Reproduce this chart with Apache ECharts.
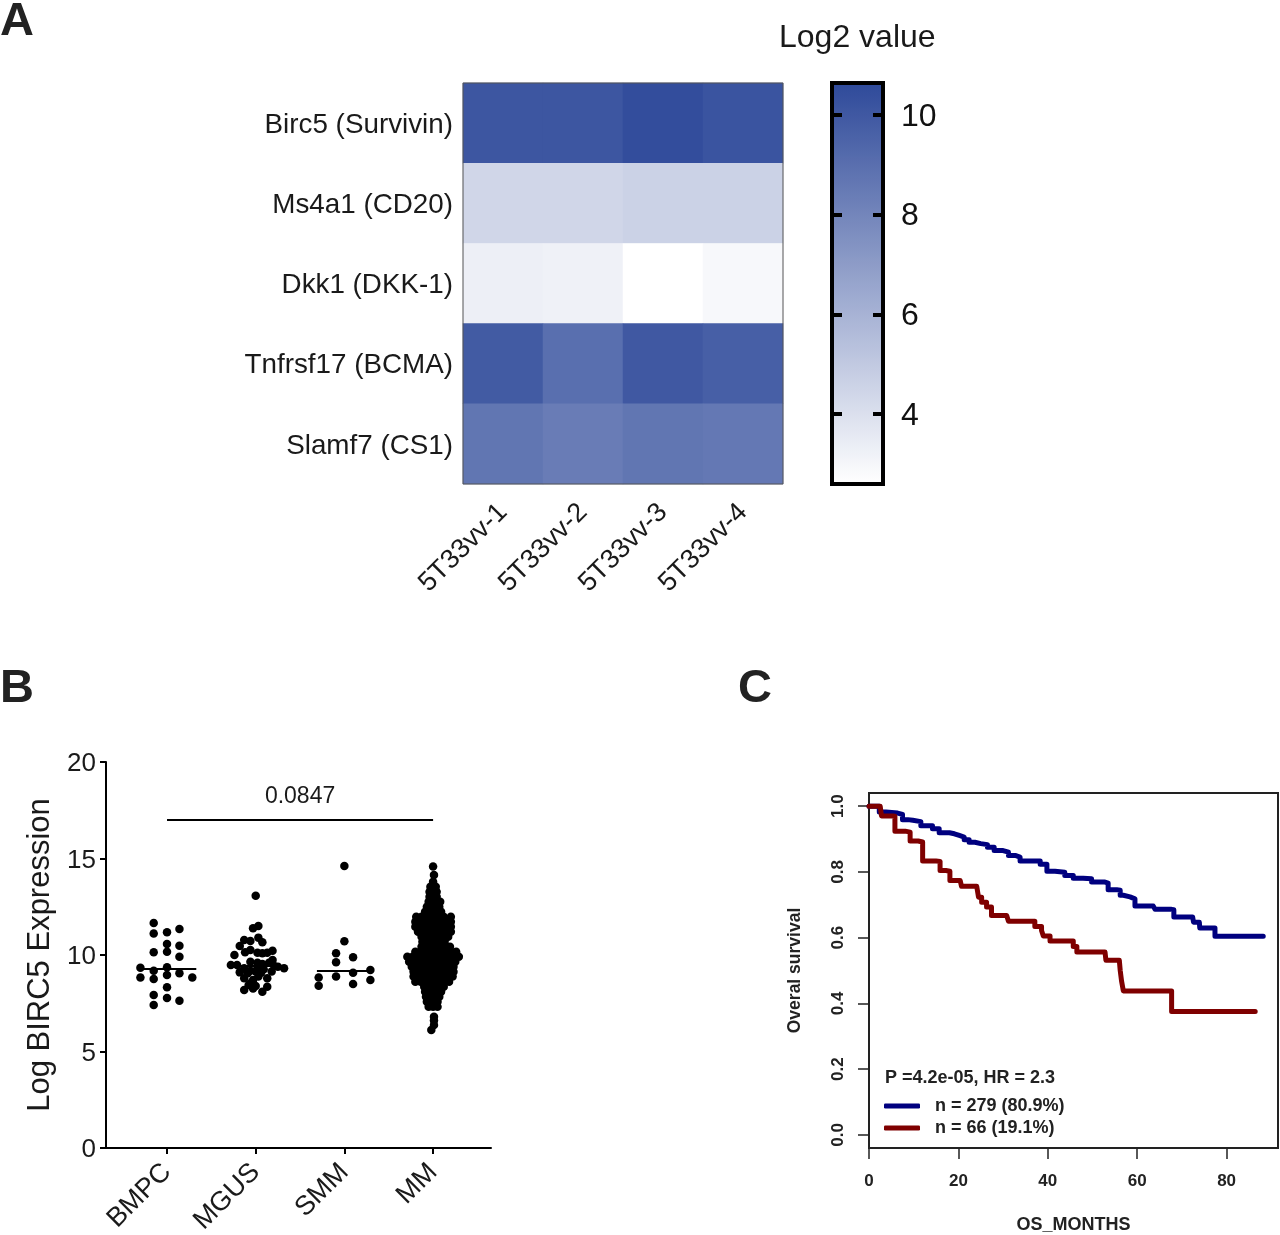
<!DOCTYPE html>
<html>
<head>
<meta charset="utf-8">
<title>BIRC5 panels</title>
<script src="https://cdn.jsdelivr.net/npm/echarts@6/dist/echarts.min.js"></script>
<style>
html, body { margin: 0; padding: 0; background: #fff; }
#main { width: 1280px; height: 1235px; }
</style>
</head>
<body>
<div id="main"></div>
<script>
var FONT = '"Liberation Sans", Arial, sans-serif';

// A: heatmap
var geneLabels = ['Birc5 (Survivin)', 'Ms4a1 (CD20)', 'Dkk1 (DKK-1)', 'Tnfrsf17 (BCMA)', 'Slamf7 (CS1)'];
var sampleLabels = ['5T33vv-1', '5T33vv-2', '5T33vv-3', '5T33vv-4'];
var birc5Row = [10.1, 10.1, 10.5, 10.2];
var ms4a1Row = [4.4, 4.4, 4.6, 4.6];
var dkk1Row = [3.3, 3.2, 2.6, 2.9];
var tnfrsf17Row = [9.9, 9.0, 10.0, 9.7];
var slamf7Row = [8.7, 8.4, 8.7, 8.6];
var colorbarTicks = [4, 6, 8, 10];

// B: swarm, each point is an offset from the group centre and a value
var groupLabels = ['BMPC', 'MGUS', 'SMM', 'MM'];
var groupMedians = [9.29, 9.43, 9.17, 9.95];
var bmpcOffsets = [-0.15, -0.15, 0, 0.14, 0, 0.14, -0.15, 0, 0.14, -0.3, -0.15, 0, -0.3, -0.15, 0, 0.14, 0.285, 0, -0.15, 0, 0.14, -0.15];
var bmpcValues = [11.66, 11.12, 11.18, 11.35, 10.57, 10.48, 10.14, 10.17, 9.91, 9.34, 9.19, 9.36, 8.84, 8.76, 8.96, 9.05, 8.83, 8.33, 7.93, 7.77, 7.63, 7.41];
var mgusOffsets = [0, 0.03, -0.03, -0.13, -0.06, 0.03, 0.075, -0.18, -0.24, -0.12, -0.06, 0.02, 0.075, 0.13, 0.19, -0.28, -0.21, -0.06, 0.02, 0.075, 0.15, 0.19, -0.13, -0.06, 0.02, 0.09, 0.21, 0.25, 0.32, -0.18, -0.09, 0, 0.06, 0.18, -0.13, -0.03, 0.03, 0.13, -0.08, 0, 0.13, -0.13, -0.03, 0.075, -0.06];
var mgusValues = [13.07, 11.5, 11.38, 10.78, 10.73, 10.9, 10.66, 10.47, 10.0, 10.14, 10.26, 10.12, 10.09, 10.12, 10.22, 9.48, 9.48, 9.65, 9.6, 9.53, 9.6, 9.74, 9.31, 9.19, 9.31, 9.26, 9.43, 9.39, 9.31, 9.1, 9.05, 9.14, 9.08, 9.14, 8.79, 8.7, 8.88, 8.79, 8.45, 8.39, 8.36, 8.19, 8.27, 8.1, 8.53];
var smmOffsets = [0, 0, -0.094, -0.094, 0.098, 0.293, 0.098, -0.094, -0.29, -0.29, 0.098, 0.293];
var smmValues = [14.61, 10.71, 10.09, 9.62, 9.88, 9.22, 9.08, 8.88, 8.84, 8.41, 8.5, 8.7];
// MM is too dense to read point by point, so it is read row by row from the silhouette
var mmRowValues = [14.58, 14.15, 13.8, 13.54, 13.28, 13.02, 12.76, 12.5, 12.24, 11.98, 11.72, 11.47, 11.21, 10.95, 10.69, 10.43, 10.17, 9.91, 9.65, 9.39, 9.13, 8.88, 8.62, 8.36, 8.1, 7.84, 7.58, 7.32, 6.8, 6.6, 6.37, 6.11];
var mmRowOffsets = [
    [0],
    [0.01],
    [0],
    [-0.03, 0.03],
    [-0.04, 0, 0.04],
    [-0.04, 0, 0.04],
    [-0.05, 0, 0.05, 0.08],
    [-0.07, -0.02, 0.03, 0.07],
    [-0.09, -0.04, 0, 0.05, 0.09],
    [-0.19, -0.13, -0.08, -0.03, 0.02, 0.07, 0.12, 0.2],
    [-0.2, -0.14, -0.08, -0.03, 0.03, 0.08, 0.14, 0.2],
    [-0.2, -0.14, -0.08, -0.03, 0.03, 0.08, 0.14, 0.2],
    [-0.17, -0.11, -0.06, 0, 0.06, 0.11, 0.17, 0.2],
    [-0.13, -0.08, -0.03, 0.03, 0.08, 0.13, 0.17],
    [-0.12, -0.07, -0.02, 0.03, 0.08, 0.13],
    [-0.13, -0.08, -0.03, 0.03, 0.08, 0.13, 0.19],
    [-0.2, -0.14, -0.08, -0.03, 0.03, 0.08, 0.14, 0.2, 0.26],
    [-0.29, -0.23, -0.17, -0.11, -0.05, 0, 0.05, 0.11, 0.17, 0.23, 0.29],
    [-0.27, -0.2, -0.14, -0.08, -0.03, 0.03, 0.08, 0.14, 0.2, 0.25],
    [-0.24, -0.18, -0.12, -0.06, 0, 0.06, 0.12, 0.18, 0.23],
    [-0.22, -0.16, -0.1, -0.05, 0, 0.05, 0.1, 0.16, 0.23],
    [-0.22, -0.16, -0.1, -0.05, 0, 0.05, 0.1, 0.16, 0.22],
    [-0.2, -0.14, -0.08, -0.03, 0.03, 0.08, 0.13, 0.18],
    [-0.1, -0.05, 0, 0.06, 0.12],
    [-0.09, -0.04, 0.01, 0.05, 0.09],
    [-0.08, -0.03, 0.02, 0.07],
    [-0.07, -0.02, 0.02, 0.05],
    [-0.05, 0, 0.05],
    [0.01],
    [0.01],
    [0.01],
    [-0.02]
];
var pValueLabel = '0.0847';
var bracketValue = 17;

// C: survival curves
var blueMonths = [0, 2.3, 3.8, 6.4, 7.5, 8.7, 9.8, 11.6, 14.2, 15.7, 18, 19.1, 20.2, 21.3, 22.4, 23.7, 25, 26.5, 28, 30, 31.2, 32.7, 33.8, 36.8, 38.3, 39.8, 41.6, 43.8, 45.7, 47.9, 49.8, 52.8, 53.5, 55.4, 56.2, 56.9, 58.4, 59.5, 63.6, 64, 67.7, 68.2, 72.4, 72.6, 73.9, 74, 77.4, 77.4, 88.2];
var blueSurvival = [1, 0.982, 0.979, 0.975, 0.959, 0.957, 0.953, 0.94, 0.931, 0.919, 0.916, 0.911, 0.906, 0.898, 0.89, 0.886, 0.883, 0.875, 0.865, 0.86, 0.85, 0.845, 0.833, 0.833, 0.823, 0.802, 0.799, 0.789, 0.781, 0.779, 0.769, 0.766, 0.746, 0.744, 0.729, 0.724, 0.718, 0.696, 0.695, 0.686, 0.685, 0.663, 0.662, 0.647, 0.644, 0.629, 0.628, 0.604, 0.604];
var redMonths = [0, 2.5, 2.8, 5.3, 5.8, 8.1, 9.2, 11, 12, 15, 15.9, 17.2, 18.1, 20.4, 20.7, 24.1, 24.5, 25.2, 26.3, 27.4, 30.8, 31.2, 36.6, 37.1, 38.6, 39, 40.5, 45.1, 45.7, 46.5, 52.8, 53, 56, 56.2, 56.5, 56.9, 67.7, 67.7, 86.4];
var redSurvival = [1, 0.997, 0.97, 0.969, 0.924, 0.921, 0.894, 0.891, 0.833, 0.832, 0.804, 0.802, 0.774, 0.772, 0.756, 0.756, 0.723, 0.708, 0.693, 0.667, 0.665, 0.65, 0.65, 0.634, 0.622, 0.605, 0.59, 0.59, 0.573, 0.556, 0.556, 0.531, 0.531, 0.5, 0.468, 0.438, 0.438, 0.375, 0.375];
var survivalTicks = [0, 0.2, 0.4, 0.6, 0.8, 1];
var blueLabel = 'n = 279 (80.9%)';
var redLabel = 'n = 66 (19.1%)';
var statsLabel = 'P =4.2e-05, HR = 2.3';

function zipPairs(xs, ys) {
    var pairs = [];
    for (var i = 0; i < xs.length; i++) {
        pairs.push([xs[i], ys[i]]);
    }
    return pairs;
}

function heatmapCells() {
    var rows = [birc5Row, ms4a1Row, dkk1Row, tnfrsf17Row, slamf7Row];
    var cells = [];
    for (var r = 0; r < rows.length; r++) {
        for (var c = 0; c < rows[r].length; c++) {
            cells.push([c, r, rows[r][c]]);
        }
    }
    return cells;
}

function swarmSeries(groupIndex, offsets, values) {
    var points = [];
    for (var i = 0; i < offsets.length; i++) {
        points.push([groupIndex + offsets[i], values[i]]);
    }
    var median = groupMedians[groupIndex];
    return {
        name: groupLabels[groupIndex],
        type: 'scatter',
        xAxisIndex: 3,
        yAxisIndex: 3,
        symbolSize: 8.5,
        itemStyle: { color: '#000', opacity: 1 },
        data: points,
        z: 3,
        markLine: {
            silent: true,
            symbol: 'none',
            animation: false,
            lineStyle: { color: '#000', width: 2, type: 'solid' },
            label: { show: false },
            data: [[{ coord: [groupIndex - 0.31, median] }, { coord: [groupIndex + 0.33, median] }]]
        }
    };
}

// flatten the MM rows into one point list
var mmOffsets = [];
var mmValues = [];
for (var r = 0; r < mmRowValues.length; r++) {
    for (var k = 0; k < mmRowOffsets[r].length; k++) {
        mmOffsets.push(mmRowOffsets[r][k]);
        mmValues.push(mmRowValues[r]);
    }
}

var chart = echarts.init(document.getElementById('main'));

var option = {
    animation: false,
    backgroundColor: '#fff',
    textStyle: { fontFamily: FONT },
    title: [
        { text: 'A', left: 0, top: -1, padding: 0, textStyle: { fontFamily: FONT, fontSize: 47, fontWeight: 'bold', color: '#222' } },
        { text: 'B', left: 0, top: 666, padding: 0, textStyle: { fontFamily: FONT, fontSize: 47, fontWeight: 'bold', color: '#222' } },
        { text: 'C', left: 738, top: 666, padding: 0, textStyle: { fontFamily: FONT, fontSize: 47, fontWeight: 'bold', color: '#222' } },
        { text: 'Log2 value', left: 779, top: 22, padding: 0, textStyle: { fontFamily: FONT, fontSize: 32, fontWeight: 'normal', color: '#1a1a1a' } },
        { text: statsLabel, left: 885, top: 1069, padding: 0, textStyle: { fontFamily: FONT, fontSize: 18, fontWeight: 'bold', color: '#222' } }
    ],
    visualMap: {
        type: 'continuous',
        seriesIndex: 0,
        min: 2.6,
        max: 10.64,
        left: 832,
        top: 83,
        padding: 0,
        itemWidth: 51,
        itemHeight: 401,
        calculable: false,
        hoverLink: false,
        text: null,
        z: 1,
        inRange: { color: ['#ffffff', '#2f4a9a'] }
    },
    legend: {
        data: [blueLabel, redLabel],
        orient: 'vertical',
        left: 884,
        top: 1097,
        padding: 0,
        icon: 'roundRect',
        itemWidth: 36,
        itemHeight: 5,
        itemGap: 4,
        selectedMode: false,
        textStyle: { fontFamily: FONT, fontSize: 18, fontWeight: 'bold', color: '#222', padding: [0, 0, 0, 10] }
    },
    grid: [
        { left: 463, top: 83, width: 320, height: 401, outerBoundsMode: 'none', show: true, backgroundColor: 'transparent', borderColor: '#555', borderWidth: 1, z: 5 },
        { left: 832, top: 83, width: 51, height: 401, outerBoundsMode: 'none', show: true, backgroundColor: 'transparent', borderColor: '#000', borderWidth: 4, z: 10 },
        { left: 869, top: 793, width: 409, height: 355, outerBoundsMode: 'none', show: true, backgroundColor: 'transparent', borderColor: '#222', borderWidth: 2 },
        { left: 106, top: 762, width: 385, height: 386, outerBoundsMode: 'none' }
    ],
    xAxis: [
        {
            gridIndex: 0,
            type: 'category',
            data: sampleLabels,
            axisLine: { show: false },
            axisTick: { alignWithLabel: true, length: 6, lineStyle: { color: '#222', width: 1.5 } },
            axisLabel: { rotate: 45, margin: 24, fontSize: 27, color: '#1a1a1a', fontFamily: FONT, interval: 0 }
        },
        {
            gridIndex: 1,
            type: 'value',
            min: 0,
            max: 1,
            axisLine: { show: false },
            axisTick: { show: false },
            axisLabel: { show: false },
            splitLine: { show: false }
        },
        {
            gridIndex: 2,
            type: 'value',
            min: 0,
            max: 91.5,
            interval: 20,
            name: 'OS_MONTHS',
            nameLocation: 'middle',
            nameGap: 68,
            nameTextStyle: { fontFamily: FONT, fontSize: 18, fontWeight: 'bold', color: '#222' },
            axisLine: { show: false, onZero: false },
            axisTick: { length: 11, lineStyle: { color: '#222', width: 1.5 } },
            axisLabel: { margin: 25, fontSize: 17, fontWeight: 'bold', color: '#222', fontFamily: FONT, showMaxLabel: false },
            splitLine: { show: false }
        },
        {
            gridIndex: 3,
            type: 'value',
            min: -0.688,
            max: 3.653,
            axisLine: { onZero: false, lineStyle: { color: '#000', width: 2 } },
            axisTick: { length: 6, customValues: [0, 1, 2, 3], lineStyle: { color: '#000', width: 2 } },
            axisLabel: {
                customValues: [0, 1, 2, 3],
                rotate: 45,
                margin: 20,
                fontSize: 27,
                color: '#1a1a1a',
                fontFamily: FONT,
                formatter: function (value) { return groupLabels[value]; }
            },
            splitLine: { show: false }
        }
    ],
    yAxis: [
        {
            gridIndex: 0,
            type: 'category',
            inverse: true,
            data: geneLabels,
            axisLine: { show: false },
            axisTick: { alignWithLabel: true, length: 6, lineStyle: { color: '#222', width: 1.5 } },
            axisLabel: { margin: 10, verticalAlign: 'top', lineHeight: 4, fontSize: 27.8, color: '#1a1a1a', fontFamily: FONT, interval: 0 }
        },
        {
            gridIndex: 1,
            type: 'value',
            position: 'right',
            min: 2.6,
            max: 10.64,
            z: 10,
            axisLine: { show: false, onZero: false },
            axisTick: { inside: true, length: 10, customValues: colorbarTicks, lineStyle: { color: '#000', width: 4 } },
            axisLabel: { margin: 18, verticalAlign: 'top', lineHeight: 4, customValues: colorbarTicks, fontSize: 32, color: '#111', fontFamily: FONT },
            splitLine: { show: false }
        },
        {
            gridIndex: 2,
            type: 'value',
            min: -0.04,
            max: 1.04,
            name: 'Overal survival',
            nameLocation: 'middle',
            nameRotate: 90,
            nameGap: 65,
            nameTextStyle: { fontFamily: FONT, fontSize: 17.5, fontWeight: 'bold', color: '#222' },
            axisLine: { show: false, onZero: false },
            axisTick: { length: 11, customValues: survivalTicks, lineStyle: { color: '#222', width: 1.5 } },
            axisLabel: {
                customValues: survivalTicks,
                rotate: 90,
                margin: 22,
                fontSize: 17,
                fontWeight: 'bold',
                color: '#222',
                fontFamily: FONT,
                formatter: function (value) { return value.toFixed(1); }
            },
            splitLine: { show: false }
        },
        {
            gridIndex: 3,
            type: 'value',
            min: 0,
            max: 20,
            interval: 5,
            name: 'Log BIRC5 Expression',
            nameLocation: 'middle',
            nameRotate: 90,
            nameGap: 50,
            nameTextStyle: { fontFamily: FONT, fontSize: 31, color: '#1a1a1a' },
            axisLine: { show: true, onZero: false, lineStyle: { color: '#000', width: 2 } },
            axisTick: { show: true, length: 6, lineStyle: { color: '#000', width: 2 } },
            axisLabel: { margin: 10, verticalAlign: 'top', lineHeight: 4, fontSize: 26, color: '#1a1a1a', fontFamily: FONT },
            splitLine: { show: false }
        },
        {
            // left hand ticks of the colour bar
            gridIndex: 1,
            type: 'value',
            position: 'left',
            min: 2.6,
            max: 10.64,
            z: 10,
            axisLine: { show: false, onZero: false },
            axisTick: { inside: true, length: 10, customValues: colorbarTicks, lineStyle: { color: '#000', width: 4 } },
            axisLabel: { show: false },
            splitLine: { show: false }
        }
    ],
    series: [
        {
            name: 'Log2 value',
            type: 'heatmap',
            xAxisIndex: 0,
            yAxisIndex: 0,
            data: heatmapCells(),
            itemStyle: { borderWidth: 0 },
            emphasis: { disabled: true }
        },
        swarmSeries(0, bmpcOffsets, bmpcValues),
        swarmSeries(1, mgusOffsets, mgusValues),
        swarmSeries(2, smmOffsets, smmValues),
        swarmSeries(3, mmOffsets, mmValues),
        {
            name: 'bracket',
            type: 'line',
            xAxisIndex: 3,
            yAxisIndex: 3,
            data: [[0, bracketValue], [3, bracketValue]],
            showSymbol: false,
            symbol: 'none',
            lineStyle: { color: '#000', width: 2 },
            silent: true,
            markPoint: {
                silent: true,
                symbol: 'circle',
                symbolSize: 0,
                label: { show: true, position: 'top', distance: 12, formatter: pValueLabel, fontFamily: FONT, fontSize: 23, color: '#1a1a1a' },
                data: [{ coord: [1.5, bracketValue] }]
            }
        },
        {
            name: blueLabel,
            type: 'line',
            xAxisIndex: 2,
            yAxisIndex: 2,
            step: 'end',
            showSymbol: false,
            symbol: 'none',
            data: zipPairs(blueMonths, blueSurvival),
            lineStyle: { color: '#00007f', width: 5, cap: 'round', join: 'round' },
            itemStyle: { color: '#00007f' },
            z: 3
        },
        {
            name: redLabel,
            type: 'line',
            xAxisIndex: 2,
            yAxisIndex: 2,
            step: 'end',
            showSymbol: false,
            symbol: 'none',
            data: zipPairs(redMonths, redSurvival),
            lineStyle: { color: '#7f0000', width: 5, cap: 'round', join: 'round' },
            itemStyle: { color: '#7f0000' },
            z: 4
        }
    ]
};

chart.setOption(option);
</script>
</body>
</html>
